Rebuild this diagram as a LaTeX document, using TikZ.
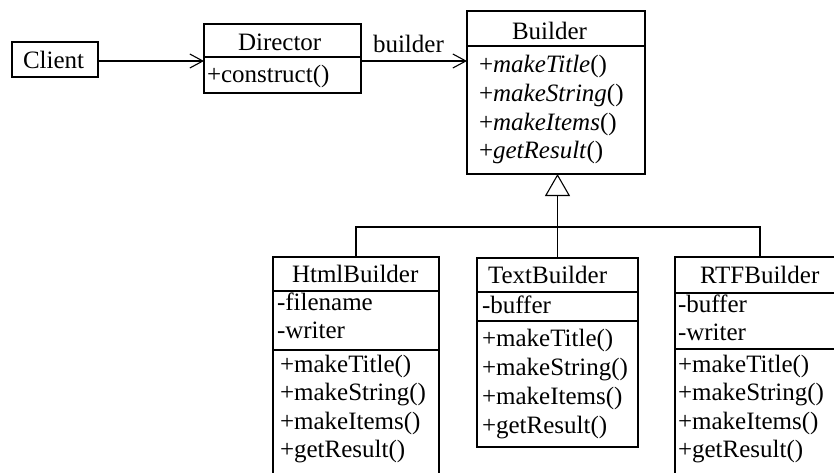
\documentclass[tikz,border=0pt]{standalone}
\usepackage{fontspec}
\setmainfont{Liberation Serif}
\usetikzlibrary{arrows.meta}

\tikzset{
  cls/.style={draw, line width=1.1pt, inner sep=0pt, outer sep=0pt},
  txt/.style={anchor=base west, inner sep=0pt, outer sep=0pt},
  sep/.style={line width=1.1pt},
  assoc/.style={line width=1.1pt, -{Straight Barb[length=13pt,width=14pt,line width=1.1pt]}},
  inherit/.style={line width=1.1pt, -{Triangle[open,length=22pt,width=25pt,line width=1.1pt]}},
  link/.style={line width=1.1pt}
}

\begin{document}
\begin{tikzpicture}[x=1pt, y=1pt, font=\fontsize{25}{29}\selectfont]
\useasboundingbox (0,0) rectangle (834,-472);
\clip (0,0) rectangle (834,-472);

% class boxes
\node[cls, minimum width=86pt,  minimum height=35pt]  (client)   at (55,-59.5)   {};
\node[cls, minimum width=157pt, minimum height=69pt]  (director) at (282.5,-58.5) {};
\node[cls, minimum width=178pt, minimum height=163pt] (builder)  at (556,-92.5)  {};
\node[cls, minimum width=166pt, minimum height=233pt] (html)     at (356,-373.5) {};
\node[cls, minimum width=161pt, minimum height=189pt] (text)     at (557.5,-352.5) {};
\node[cls, minimum width=170pt, minimum height=233pt] (rtf)      at (760,-373.5) {};

% compartment lines
\draw[sep] (director.west |- 0,-57) -- (director.east |- 0,-57);
\draw[sep] (builder.west |- 0,-46)  -- (builder.east |- 0,-46);
\draw[sep] (html.west |- 0,-291)    -- (html.east |- 0,-291);
\draw[sep] (html.west |- 0,-350)    -- (html.east |- 0,-350);
\draw[sep] (text.west |- 0,-292)    -- (text.east |- 0,-292);
\draw[sep] (text.west |- 0,-321)    -- (text.east |- 0,-321);
\draw[sep] (rtf.west |- 0,-293)     -- (rtf.east |- 0,-293);
\draw[sep] (rtf.west |- 0,-349)     -- (rtf.east |- 0,-349);

% Client
\node[txt] (clientname) at (23,-68) {Client};

% Director
\node[txt] (directorname) at (238,-50) {Director};
\node[txt] (construct)    at (207,-82) {+construct()};

% Builder (abstract operations in italics)
\node[txt] (buildername) at (512,-39) {Builder};
\node[txt] (bm1) at (479,-72)  {+\textit{makeTitle}()};
\node[txt] (bm2) at (479,-101) {+\textit{makeString}()};
\node[txt] (bm3) at (479,-130) {+\textit{makeItems}()};
\node[txt] (bm4) at (479,-158) {+\textit{getResult}()};

% HtmlBuilder
\node[txt] (htmlname) at (292,-282) {HtmlBuilder};
\node[txt] (ha1) at (277,-310) {-filename};
\node[txt] (ha2) at (277,-338) {-writer};
\node[txt] (hm1) at (280,-372) {+makeTitle()};
\node[txt] (hm2) at (280,-400) {+makeString()};
\node[txt] (hm3) at (280,-429) {+makeItems()};
\node[txt] (hm4) at (280,-457) {+getResult()};

% TextBuilder
\node[txt] (textname) at (488,-283) {TextBuilder};
\node[txt] (ta1) at (482,-313) {-buffer};
\node[txt] (tm1) at (482,-346) {+makeTitle()};
\node[txt] (tm2) at (482,-375) {+makeString()};
\node[txt] (tm3) at (482,-404) {+makeItems()};
\node[txt] (tm4) at (482,-433) {+getResult()};

% RTFBuilder
\node[txt] (rtfname) at (700,-283) {RTFBuilder};
\node[txt] (ra1) at (678,-312) {-buffer};
\node[txt] (ra2) at (678,-340) {-writer};
\node[txt] (rm1) at (678,-372) {+makeTitle()};
\node[txt] (rm2) at (678,-400) {+makeString()};
\node[txt] (rm3) at (678,-429) {+makeItems()};
\node[txt] (rm4) at (678,-457) {+getResult()};

% associations
\draw[assoc] ([yshift=-1.5pt]client.east) -- ([yshift=-1.5pt]client.east -| director.west);
\draw[assoc] ([yshift=-2.5pt]director.east) -- ([yshift=-2.5pt]director.east -| builder.west);
\node[txt] (rolename) at (373,-52) {builder};

% generalization
\coordinate (bus) at (557.5,-227);
\draw[inherit] (text.north) -- (text.north |- builder.south);
\draw[link] (html.north) |- (bus) -| (rtf.north);
\end{tikzpicture}
\end{document}
